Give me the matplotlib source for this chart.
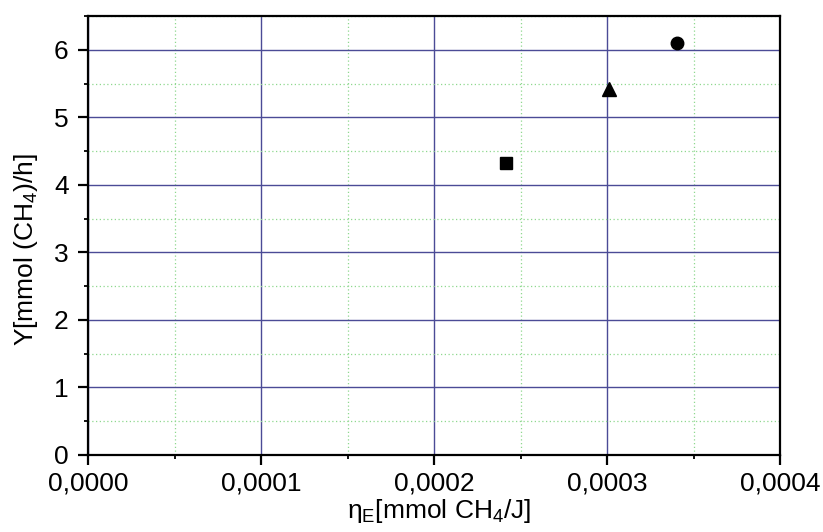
import matplotlib
matplotlib.use("Agg")
import matplotlib.pyplot as plt
from matplotlib.ticker import MultipleLocator, FuncFormatter

plt.rcParams['font.family'] = ['Liberation Sans', 'DejaVu Sans']
plt.rcParams['mathtext.fontset'] = 'custom'
plt.rcParams['mathtext.rm'] = 'Liberation Sans'
plt.rcParams['mathtext.it'] = 'Liberation Sans'
plt.rcParams['mathtext.default'] = 'regular'

# data
eta = [0.0002417, 0.000301, 0.0003403]
Y = [4.33, 5.42, 6.10]
markers = ['s', '^', 'o']
sizes = [8, 10, 9]

fig = plt.figure(figsize=(8.23, 5.32), dpi=100)
ax = fig.add_axes([88/823, 77/532, (780-88)/823, (455-16)/532])

ax.set_xlim(0, 0.0004)
ax.set_ylim(0, 6.5)
ax.xaxis.set_major_locator(MultipleLocator(0.0001))
ax.xaxis.set_minor_locator(MultipleLocator(0.00005))
ax.yaxis.set_major_locator(MultipleLocator(1))
ax.yaxis.set_minor_locator(MultipleLocator(0.5))
ax.xaxis.set_major_formatter(FuncFormatter(lambda v, p: f"{v:.4f}".replace('.', ',')))

ax.grid(which='major', color='#4b4b96', linewidth=1.0, linestyle='-')
ax.grid(which='minor', color='#8fd88f', linewidth=0.9, linestyle=(0, (1, 2)))
ax.set_axisbelow(True)

for s in ax.spines.values():
    s.set_linewidth(1.6)
    s.set_color('black')

ax.tick_params(which='major', direction='out', length=7, width=1.6, labelsize=19, pad=5)
ax.tick_params(axis='y', which='major', pad=7)
ax.tick_params(which='minor', direction='out', length=3, width=1.3)
ax.tick_params(axis='x', which='both', top=False)
ax.tick_params(axis='y', which='both', right=False)

for x, y, m, ms in zip(eta, Y, markers, sizes):
    ax.plot([x], [y], marker=m, color='black', markersize=ms, linestyle='none', clip_on=False)

ax.set_xlabel(r'$\eta_E$[mmol CH$_4$/J]', fontsize=19, labelpad=4)
ax.xaxis.set_label_coords(0.508, -0.095)
ax.xaxis.label.set_va('top')
ax.set_ylabel(r'Y[mmol (CH$_4$)/h]', fontsize=19)
ax.yaxis.set_label_coords(-0.07, 0.469)

fig.savefig('out.png', dpi=100)
